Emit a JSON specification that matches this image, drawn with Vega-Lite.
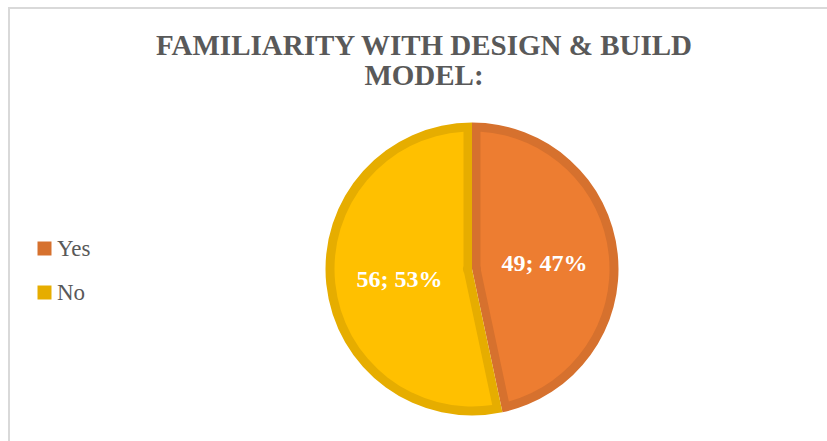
{
  "$schema": "https://vega.github.io/schema/vega-lite/v6.json",
  "autosize": "none",
  "width": 926,
  "height": 522,
  "padding": {"left": 9, "top": 8, "right": -108, "bottom": -89},
  "background": "white",
  "view": {"stroke": "#D9D9D9", "strokeWidth": 2},
  "config": {
    "view": {"stroke": "#D9D9D9", "strokeWidth": 2},
    "legend": {"labelFont": "Liberation Serif", "labelFontSize": 23, "labelColor": "#595959"}
  },
  "title": {
    "text": ["FAMILIARITY WITH DESIGN & BUILD", "MODEL:"],
    "font": "Liberation Serif",
    "fontSize": 29,
    "fontWeight": "bold",
    "color": "#595959",
    "anchor": "middle",
    "lineHeight": 30,
    "dx": -48,
    "dy": 87
  },
  "data": {
    "values": [
      {"answer": "Yes", "count": 49, "label": "49; 47%", "ord": 1},
      {"answer": "No", "count": 56, "label": "56; 53%", "ord": 2}
    ]
  },
  "layer": [
    {
      "mark": {"type": "arc", "radius": 146.5},
      "encoding": {
        "theta": {"field": "count", "type": "quantitative", "stack": true},
        "order": {"field": "ord", "type": "quantitative"},
        "color": {
          "field": "answer",
          "type": "nominal",
          "scale": {"domain": ["Yes", "No"], "range": ["#D6712E", "#E6AD00"]},
          "legend": {
            "title": null,
            "orient": "none",
            "legendX": 24,
            "legendY": 229,
            "symbolType": "square",
            "symbolSize": 196,
            "symbolStrokeWidth": 0,
            "labelFont": "Liberation Serif",
            "labelFontSize": 23,
            "labelColor": "#595959",
            "rowPadding": 20,
            "labelOffset": 1,
            "padding": 0
          }
        }
      }
    },
    {
      "mark": {"type": "arc", "radius": 137.5, "radius2": 9, "padAngle": 0.1234},
      "encoding": {
        "theta": {"field": "count", "type": "quantitative", "stack": true},
        "order": {"field": "ord", "type": "quantitative"},
        "fill": {
          "field": "answer",
          "type": "nominal",
          "scale": {"domain": ["Yes", "No"], "range": ["#ED7D31", "#FFC000"]},
          "legend": null
        }
      }
    },
    {
      "mark": {
        "type": "text",
        "radius": 73,
        "font": "Liberation Serif",
        "fontSize": 24,
        "fontWeight": "bold",
        "color": "white",
        "baseline": "middle",
        "align": "center",
        "dy": 3
      },
      "encoding": {
        "theta": {"field": "count", "type": "quantitative", "stack": true},
        "order": {"field": "ord", "type": "quantitative"},
        "text": {"field": "label", "type": "nominal"}
      }
    }
  ],
  "resolve": {"scale": {"fill": "independent"}}
}
